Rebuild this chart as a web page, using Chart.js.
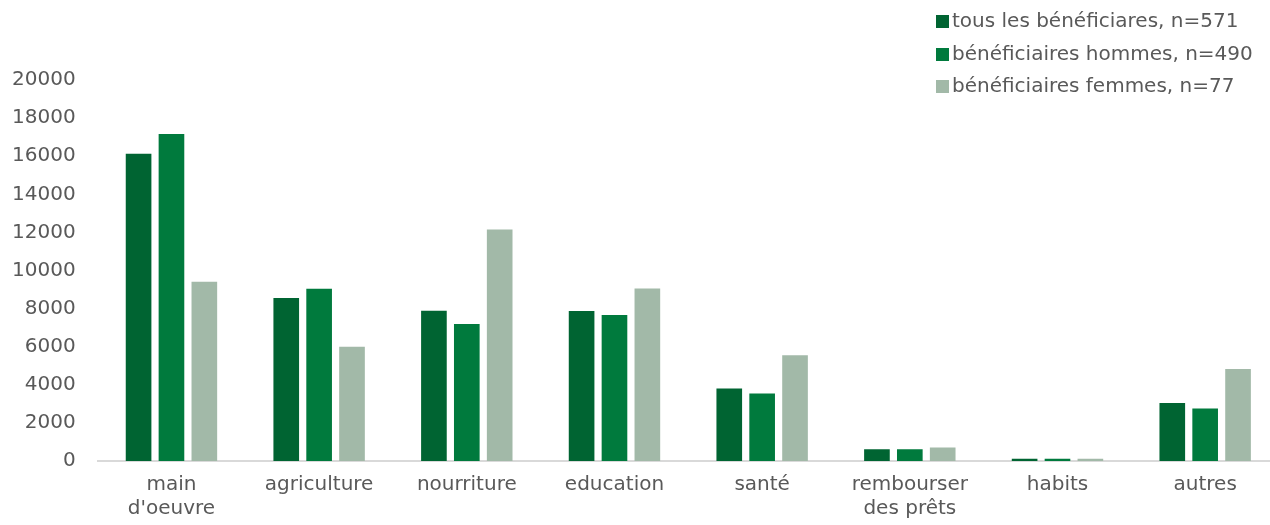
<!DOCTYPE html>
<html>
<head>
<meta charset="utf-8">
<script src="https://cdn.jsdelivr.net/npm/chart.js@4.4.1/dist/chart.umd.min.js"></script>
<style>
  html, body { margin: 0; padding: 0; background: #fff; overflow: hidden; }
  .wrap { position: relative; width: 1279px; height: 525px; }
  .legend { position: absolute; left: 936px; top: 6px; font: 20px 'DejaVu Sans', sans-serif; color: #595959; }
  .legend div { height: 32.5px; line-height: 28px; white-space: nowrap; }
  .legend span { display: inline-block; width: 13px; height: 13px; margin-right: 3px; vertical-align: -1px; }
</style>
</head>
<body>
<div class="wrap">
  <canvas id="c"></canvas>
  <div class="legend" id="legend"></div>
</div>
<script>
const categories = [['main', "d'oeuvre"], 'agriculture', 'nourriture', 'education', 'santé', ['rembourser', 'des prêts'], 'habits', 'autres']
const seriesNames = ['tous les bénéficiares, n=571', 'bénéficiaires hommes, n=490', 'bénéficiaires femmes, n=77']
const tous = [16130, 8550, 7890, 7870, 3810, 620, 120, 3050]
const hommes = [17160, 9040, 7190, 7660, 3540, 620, 120, 2760]
const femmes = [9410, 6000, 12150, 9060, 5550, 710, 120, 4830]
const yTicks = [0, 2000, 4000, 6000, 8000, 10000, 12000, 14000, 16000, 18000, 20000]

const colors = ['#006432', '#007A3D', '#A2B9A8']
const font = { family: "'DejaVu Sans', sans-serif", size: 20 }

const datasets = [tous, hommes, femmes].map((data, i) => ({
  label: seriesNames[i],
  data,
  backgroundColor: colors[i],
  borderWidth: 0,
  categoryPercentage: 0.668,
  barPercentage: 0.78
}))

new Chart(document.getElementById('c').getContext('2d'), {
  type: 'bar',
  data: { labels: categories, datasets },
  options: {
    responsive: true,
    maintainAspectRatio: false,
    animation: false,
    layout: { padding: { top: 80, left: -10, right: 0, bottom: -8 } },
    plugins: {
      legend: { display: false },
      tooltip: { enabled: false }
    },
    scales: {
      x: {
        grid: { display: false, drawTicks: false },
        border: { display: true, color: '#D9D9D9', width: 2 },
        ticks: { color: '#595959', font, padding: 12, maxRotation: 0, autoSkip: false }
      },
      y: {
        min: yTicks[0],
        max: yTicks[yTicks.length - 1],
        grid: { display: false, drawTicks: false },
        border: { display: false },
        afterBuildTicks: axis => { axis.ticks = yTicks.map(value => ({ value })) },
        ticks: { color: '#595959', font, padding: 22, callback: v => String(v) }
      }
    }
  }
})

document.getElementById('legend').innerHTML = datasets.map(d =>
  '<div><span style="background:' + d.backgroundColor + '"></span>' + d.label + '</div>'
).join('')
</script>
</body>
</html>
